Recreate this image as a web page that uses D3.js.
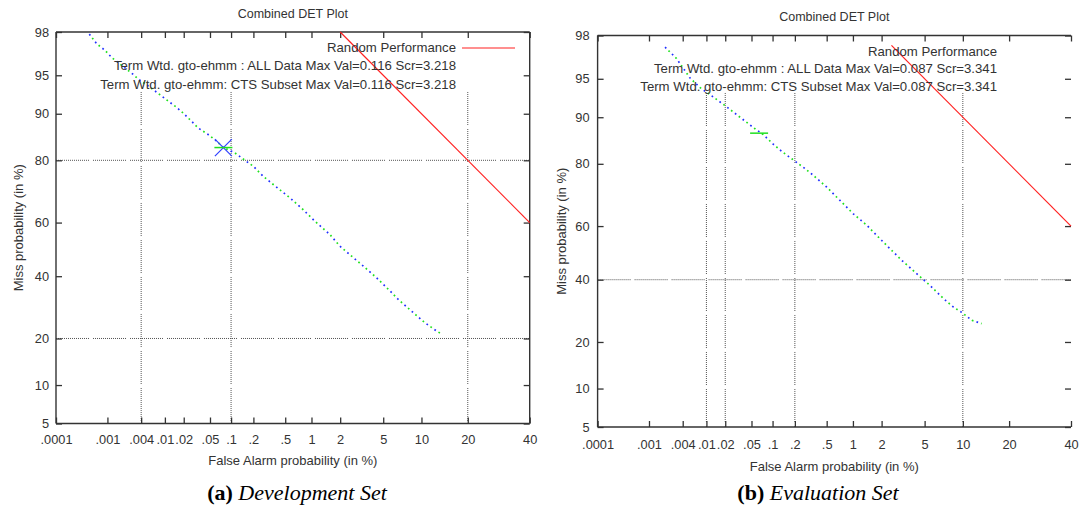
<!DOCTYPE html>
<html>
<head>
<meta charset="utf-8">
<script src="https://cdn.jsdelivr.net/npm/d3@7"></script>
<style>
  body { margin: 0; background: #fff; }
  svg { display: block; }
  .plot text { font-family: "Liberation Sans", Arial, Helvetica, sans-serif; fill: #333; }
  .caption { font-family: "Liberation Serif", "Times New Roman", serif; fill: #000; }
</style>
</head>
<body>
<svg id="chart" width="1084" height="510"></svg>
<script>
// ---- axis ticks (percent) ----
const xTickValues = [0.0001, 0.001, 0.004, 0.01, 0.02, 0.05, 0.1, 0.2, 0.5, 1, 2, 5, 10, 20, 40];
const xTickLabels = [".0001", ".001", ".004", ".01", ".02", ".05", ".1", ".2", ".5", "1", "2", "5", "10", "20", "40"];
const yTickValues = [5, 10, 20, 40, 60, 80, 90, 95, 98];
const yTickLabels = ["5", "10", "20", "40", "60", "80", "90", "95", "98"];

// ---- development set: [false alarm %, miss %] ----
const devAll = [
  [0.000456, 97.9], [0.00063, 97.4], [0.0009, 97.0], [0.0012, 96.5], [0.00274, 95.2],
  [0.0036, 94.6], [0.006, 93.6], [0.0083, 92.8], [0.0107, 92.1], [0.0146, 91.2],
  [0.0197, 90.1], [0.0336, 87.4], [0.047, 86.1], [0.059, 85.0], [0.078, 83.2],
  [0.113, 81.9], [0.14, 80.6], [0.199, 78.4], [0.268, 75.5], [0.358, 73.0],
  [0.568, 68.7], [0.809, 64.6], [1.09, 60.5], [1.57, 55.6], [1.99, 51.2],
  [2.49, 48.0], [3.21, 44.3], [4.39, 39.4], [5.9, 34.1], [6.66, 31.8],
  [8.48, 27.9], [10.6, 24.4], [12.8, 22.0], [13.8, 21.2]
];
const devCts = devAll.slice();
const devRandom = [[2, 98], [40, 60]];
const devMaxAll = [0.078, 83.2];
const devMaxCts = [0.078, 83.2];

// ---- evaluation set: [false alarm %, miss %] ----
const evalAll = [
  [0.00196, 97.4], [0.0031, 96.7], [0.0053, 95.1], [0.0078, 94.1], [0.0122, 93.1],
  [0.0198, 91.8], [0.0338, 90.0], [0.053, 88.2], [0.074, 86.8], [0.102, 84.8],
  [0.134, 83.1], [0.182, 81.3], [0.271, 78.7], [0.344, 76.8], [0.50, 73.3],
  [0.715, 69.0], [1.01, 64.4], [1.41, 60.3], [1.65, 57.8], [2.33, 52.2],
  [3.13, 47.2], [4.27, 42.2], [5.56, 37.9], [7.14, 33.3], [8.53, 30.4],
  [9.81, 28.7], [11.6, 26.2], [13.5, 25.2]
];
const evalCts = evalAll.slice();
const evalRandom = [[2.5, 97.5], [40, 60]];
const evalMaxCts = [0.0645, 87.1];

// grid lines drawn per panel
const devGridX = [0.004, 0.1, 20];
const devGridY = [80, 20];
const evalGridX = [0.01, 0.02, 0.2, 10];
const evalGridY = [40];

const devKey = [
  "Random Performance",
  "Term Wtd. gto-ehmm : ALL Data Max Val=0.116 Scr=3.218",
  "Term Wtd. gto-ehmm: CTS Subset Max Val=0.116 Scr=3.218"
];
const evalKey = [
  "Random Performance",
  "Term Wtd. gto-ehmm : ALL Data Max Val=0.087 Scr=3.341",
  "Term Wtd. gto-ehmm: CTS Subset Max Val=0.087 Scr=3.341"
];

// inverse of the standard normal CDF (Acklam's approximation)
function probit(p) {
  const a = [-3.969683028665376e+01, 2.209460984245205e+02, -2.759285104469687e+02, 1.383577518672690e+02, -3.066479806614716e+01, 2.506628277459239e+00];
  const b = [-5.447609879822406e+01, 1.615858368580409e+02, -1.556989798598866e+02, 6.680131188771972e+01, -1.328068155288572e+01];
  const c = [-7.784894002430293e-03, -3.223964580411365e-01, -2.400758277161838e+00, -2.549732539343734e+00, 4.374664141464968e+00, 2.938163982698783e+00];
  const d = [7.784695709041462e-03, 3.224671290700398e-01, 2.445134137142996e+00, 3.754408661907416e+00];
  const pl = 0.02425, ph = 1 - pl;
  let q, r;
  if (p < pl) {
    q = Math.sqrt(-2 * Math.log(p));
    return (((((c[0]*q+c[1])*q+c[2])*q+c[3])*q+c[4])*q+c[5]) / ((((d[0]*q+d[1])*q+d[2])*q+d[3])*q+1);
  }
  if (p <= ph) {
    q = p - 0.5; r = q * q;
    return (((((a[0]*r+a[1])*r+a[2])*r+a[3])*r+a[4])*r+a[5])*q / (((((b[0]*r+b[1])*r+b[2])*r+b[3])*r+b[4])*r+1);
  }
  q = Math.sqrt(-2 * Math.log(1 - p));
  return -(((((c[0]*q+c[1])*q+c[2])*q+c[3])*q+c[4])*q+c[5]) / ((((d[0]*q+d[1])*q+d[2])*q+d[3])*q+1);
}
const pz = v => probit(v / 100);

const svg = d3.select("#chart");
const gridDash = d3.range(16).map(() => "1 1").join(" ") + " 1 4";

function drawPanel(cfg) {
  const g = svg.append("g").attr("class", "plot");
  const xs = d3.scaleLinear().domain([pz(0.0001), pz(40)]).range([cfg.x0, cfg.x1]);
  const ys = d3.scaleLinear().domain([pz(5), pz(98)]).range([cfg.y1, cfg.y0]);
  const X = v => xs(pz(v));
  const Y = v => ys(pz(v));

  // grid
  g.selectAll(".gx").data(cfg.gridX).join("line")
    .attr("x1", d => X(d)).attr("x2", d => X(d))
    .attr("y1", cfg.gridTop).attr("y2", cfg.y1)
    .attr("stroke", "#555").attr("stroke-width", 1).attr("stroke-dasharray", gridDash);
  g.selectAll(".gy").data(cfg.gridY).join("line")
    .attr("x1", cfg.x0).attr("x2", cfg.x1)
    .attr("y1", d => Y(d)).attr("y2", d => Y(d))
    .attr("stroke", "#555").attr("stroke-width", 1).attr("stroke-dasharray", gridDash);

  // axes
  const xt = xTickValues.map(pz), yt = yTickValues.map(pz);
  const styleAxis = sel => {
    sel.select(".domain").remove();
    sel.selectAll(".tick line").attr("stroke", "#333").attr("stroke-width", 1.3);
    sel.selectAll(".tick text").attr("font-size", "12.8px").attr("fill", "#333");
  };
  g.append("g").attr("transform", `translate(0,${cfg.y1})`)
    .call(d3.axisBottom(xs).tickValues(xt).tickFormat((d, i) => xTickLabels[i])
      .tickSizeInner(-6).tickSizeOuter(0).tickPadding(cfg.xPad))
    .call(styleAxis);
  g.append("g").attr("transform", `translate(0,${cfg.y0})`)
    .call(d3.axisTop(xs).tickValues(xt).tickFormat("").tickSizeInner(-6).tickSizeOuter(0))
    .call(styleAxis);
  g.append("g").attr("transform", `translate(${cfg.x0},0)`)
    .call(d3.axisLeft(ys).tickValues(yt).tickFormat((d, i) => yTickLabels[i])
      .tickSizeInner(-6).tickSizeOuter(0).tickPadding(cfg.yPad))
    .call(styleAxis);
  g.append("g").attr("transform", `translate(${cfg.x1},0)`)
    .call(d3.axisRight(ys).tickValues(yt).tickFormat("").tickSizeInner(-6).tickSizeOuter(0))
    .call(styleAxis);

  // frame
  g.append("line").attr("x1", cfg.x0).attr("x2", cfg.x1).attr("y1", cfg.y0).attr("y2", cfg.y0)
    .attr("stroke", "#333").attr("stroke-width", 1.4);
  g.append("line").attr("x1", cfg.x0).attr("x2", cfg.x1).attr("y1", cfg.y1).attr("y2", cfg.y1)
    .attr("stroke", "#333").attr("stroke-width", 1.4);
  g.append("line").attr("x1", cfg.x0).attr("x2", cfg.x0).attr("y1", cfg.y0).attr("y2", cfg.y1)
    .attr("stroke", "#333").attr("stroke-width", 1.4);
  if (cfg.rightBorder) {
    g.append("line").attr("x1", cfg.x1).attr("x2", cfg.x1).attr("y1", cfg.y0).attr("y2", cfg.y1)
      .attr("stroke", "#333").attr("stroke-width", 1.4);
  }

  // random performance line
  const line = d3.line().x(d => X(d[0])).y(d => Y(d[1]));
  g.append("path").attr("d", line(cfg.random)).attr("fill", "none")
    .attr("stroke", "#ff2020").attr("stroke-width", 1.2);

  // DET curves drawn as dots
  g.append("path").attr("d", line(cfg.all)).attr("fill", "none")
    .attr("stroke", "#2030ff").attr("stroke-width", 1.7).attr("stroke-dasharray", "1.7 8");
  g.append("path").attr("d", line(cfg.cts)).attr("fill", "none")
    .attr("stroke", "#20e020").attr("stroke-width", 1.7).attr("stroke-dasharray", "1.7 8")
    .attr("stroke-dashoffset", -4.8);

  // max value markers
  if (cfg.maxAll) {
    const cx = X(cfg.maxAll[0]), cy = Y(cfg.maxAll[1]), r = 8.5;
    g.append("path").attr("d", `M${cx - r},${cy - r}L${cx + r},${cy + r}M${cx - r},${cy + r}L${cx + r},${cy - r}`)
      .attr("stroke", "#3040ff").attr("stroke-width", 1.2);
  }
  if (cfg.maxCts) {
    const cx = X(cfg.maxCts[0]), cy = Y(cfg.maxCts[1]), r = 9;
    g.append("line").attr("x1", cx - r).attr("x2", cx + r).attr("y1", cy).attr("y2", cy)
      .attr("stroke", "#20e020").attr("stroke-width", 1.5);
  }

  // key
  cfg.key.forEach((t, i) => {
    g.append("text").attr("x", cfg.keyRight).attr("y", cfg.keyTop + i * cfg.keyStep)
      .attr("text-anchor", "end").attr("dominant-baseline", "central")
      .attr("font-size", "13.2px").text(t);
  });
  if (cfg.keySample) {
    g.append("line").attr("x1", cfg.keySample[0]).attr("x2", cfg.keySample[1])
      .attr("y1", cfg.keyTop + 1).attr("y2", cfg.keyTop + 1)
      .attr("stroke", "#ff2020").attr("stroke-width", 1.2);
  }

  // titles
  const cxm = (cfg.x0 + cfg.x1) / 2;
  g.append("text").attr("x", cxm).attr("y", cfg.titleY).attr("text-anchor", "middle")
    .attr("dominant-baseline", "central").attr("font-size", "12.5px").text("Combined DET Plot");
  g.append("text").attr("x", cxm).attr("y", cfg.xLabelY).attr("text-anchor", "middle")
    .attr("dominant-baseline", "central").attr("font-size", "13px").text("False Alarm probability (in %)");
  g.append("text").attr("transform", `translate(${cfg.yLabelX},${(cfg.y0 + cfg.y1) / 2}) rotate(-90)`)
    .attr("text-anchor", "middle").attr("dominant-baseline", "central")
    .attr("font-size", "13px").text("Miss probability (in %)");

  // caption
  const cap = svg.append("text").attr("class", "caption").attr("x", cfg.captionX).attr("y", 500)
    .attr("text-anchor", "middle").attr("font-size", "22px");
  cap.append("tspan").attr("font-weight", "bold").text(cfg.captionTag);
  cap.append("tspan").attr("font-style", "italic").text(" " + cfg.caption);
}

drawPanel({
  x0: 56, x1: 529.7, y0: 32, y1: 423.5, rightBorder: true,
  gridX: devGridX, gridY: devGridY, gridTop: 92,
  all: devAll, cts: devCts, random: devRandom, maxAll: devMaxAll, maxCts: devMaxCts,
  key: devKey, keyRight: 456, keyTop: 47, keyStep: 18.5, keySample: [462, 515],
  titleY: 13.5, xLabelY: 460, yLabelX: 18, xPad: 11, yPad: 7,
  captionX: 297, captionTag: "(a)", caption: "Development Set"
});
drawPanel({
  x0: 597.6, x1: 1071, y0: 35.5, y1: 427, rightBorder: false,
  gridX: evalGridX, gridY: evalGridY, gridTop: 93,
  all: evalAll, cts: evalCts, random: evalRandom, maxAll: null, maxCts: evalMaxCts,
  key: evalKey, keyRight: 997, keyTop: 51, keyStep: 17.5, keySample: null,
  titleY: 17, xLabelY: 466, yLabelX: 561, xPad: 13, yPad: 8,
  captionX: 818, captionTag: "(b)", caption: "Evaluation Set"
});
</script>
</body>
</html>
